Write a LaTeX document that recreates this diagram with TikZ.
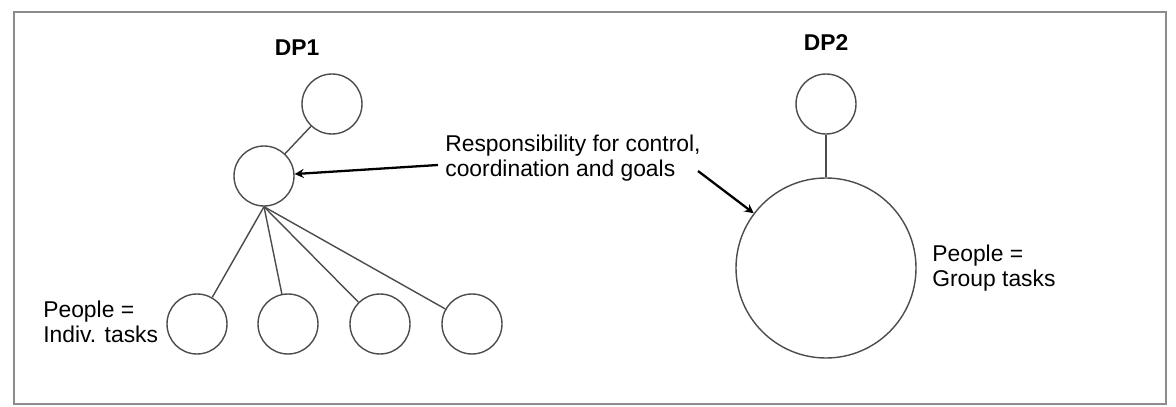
\documentclass[tikz,border=0pt]{standalone}
\usepackage{fontspec}
\setsansfont{Liberation Sans}
\usepackage{tikz}

\tikzset{
  person/.style={draw=black!70, circle, line width=0.8pt, minimum size=1.2cm, inner sep=0pt},
  label/.style={font=\sffamily\fontsize{13}{14.5}\selectfont, align=left, inner sep=0pt},
  link/.style={draw=black!70, line width=0.8pt},
  pointer/.style={->, >=stealth, line width=1.3pt}
}

\begin{document}
\begin{tikzpicture}
  \useasboundingbox (0,0) rectangle (23.52,8.14);
  \draw[black!45, line width=1.2pt] (0.28,0.06) rectangle (23.32,7.9);

  % DP1
  \node[label, font=\sffamily\bfseries\fontsize{13}{14.5}\selectfont] (dpone) at (5.94,7.18) {DP1};
  \node[person] (topone) at (6.64,6.06) {};
  \node[person] (midone) at (5.28,4.62) {};
  \node[person] (pone) at (3.94,1.66) {};
  \node[person] (ptwo) at (5.76,1.66) {};
  \node[person] (pthree) at (7.6,1.66) {};
  \node[person] (pfour) at (9.44,1.66) {};
  \node[label, anchor=west] (indiv) at (0.86,1.7) {People =\\Indiv. tasks};

  \draw[link] (topone) -- (midone);
  \draw[link] (midone.south) -- (pone);
  \draw[link] (midone.south) -- (ptwo);
  \draw[link] (midone.south) -- (pthree);
  \draw[link] (midone.south) -- (pfour);

  % DP2
  \node[label, font=\sffamily\bfseries\fontsize{13}{14.5}\selectfont] (dptwo) at (16.52,7.28) {DP2};
  \node[person] (toptwo) at (16.52,6.06) {};
  \node[person, minimum size=3.6cm] (group) at (16.52,2.78) {};
  \node[label, anchor=west] (grouptxt) at (18.64,2.78) {People =\\Group tasks};

  \draw[link] (toptwo) -- (group);

  % responsibility
  \node[label, anchor=west] (resp) at (8.9,4.98) {Responsibility for control,\\coordination and goals};
  \coordinate (fromleft) at (8.76,4.84);
  \coordinate (fromright) at (13.96,4.72);
  \draw[pointer] (fromleft) -- (midone);
  \draw[pointer] (fromright) -- (group);

\end{tikzpicture}
\end{document}
